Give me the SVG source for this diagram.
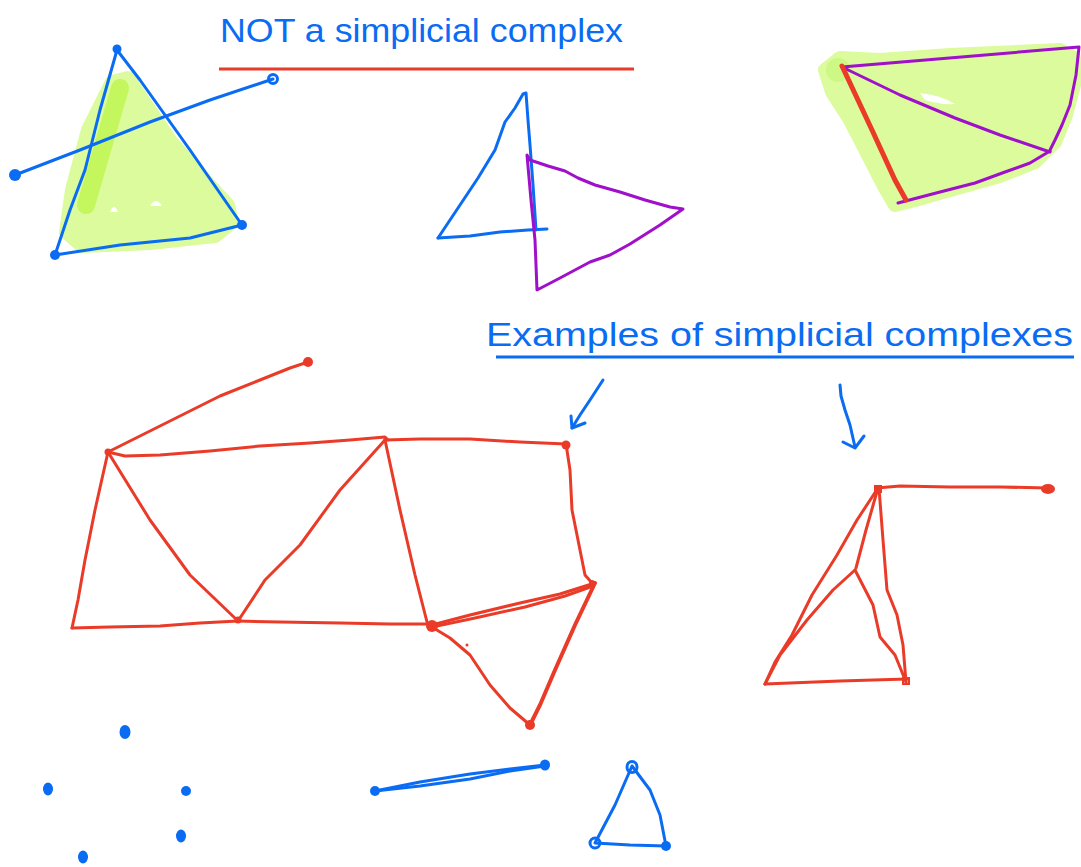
<svg xmlns="http://www.w3.org/2000/svg" width="1081" height="867" viewBox="0 0 1081 867">
<style>
.b{fill:none;stroke:#0a6cf2;stroke-width:3;stroke-linecap:round;stroke-linejoin:round}
.r{fill:none;stroke:#ea3b28;stroke-width:3;stroke-linecap:round;stroke-linejoin:round}
.p{fill:none;stroke:#a00fc9;stroke-width:3;stroke-linecap:round;stroke-linejoin:round}
.bd{fill:#0a6cf2}
.rd{fill:#ea3b28}
.g{fill:#dbfb9d;stroke:#dbfb9d;stroke-width:14;stroke-linejoin:round}
.t{font-family:"Liberation Sans","Noto Sans",sans-serif;font-size:34px;fill:#0a6cf2}
</style>
<rect width="1081" height="867" fill="#ffffff"/>

<g id="title-not">
<text class="t" x="220" y="42" textLength="403" lengthAdjust="spacingAndGlyphs">NOT a simplicial complex</text>
<line x1="219" y1="69" x2="634" y2="69" stroke="#ea3b28" stroke-width="3"/>
</g>

<g id="title-examples">
<text class="t" x="486" y="346" textLength="587" lengthAdjust="spacingAndGlyphs">Examples of simplicial complexes</text>
<line x1="496" y1="357" x2="1074" y2="357" stroke="#0a6cf2" stroke-width="3"/>
</g>

<g id="filled-triangle-with-segment">
<path class="g" d="M112,82 L128,78 L170,140 L200,175 L228,205 L232,222 L215,236 L150,243 L82,246 L66,232 L72,190 L88,130 Z"/>
<path d="M86,205 L120,88" stroke="#c4f75e" stroke-width="18" stroke-linecap="round" fill="none"/>
<path d="M110,212 Q114,202 118,212 Z M150,206 Q156,196 162,206 Z" fill="#ffffff"/>
<path class="b" d="M117,50 L100,110 L85,170 L70,210 L60,240 L55,255 L120,245 L190,238 L242,225 L190,150 L140,80 L117,50"/>
<path class="b" d="M15,175 L80,150 L150,122 L210,100 L273,79"/>
<circle class="bd" cx="117" cy="49" r="4.5"/>
<circle class="bd" cx="242" cy="225" r="5"/>
<circle class="bd" cx="55" cy="255" r="5"/>
<circle class="bd" cx="15" cy="175" r="6"/>
<circle cx="273" cy="79" r="4.5" fill="none" stroke="#0a6cf2" stroke-width="3"/>
</g>

<g id="overlapping-triangles">
<path class="b" d="M438,238 L460,205 L478,178 L495,150 L505,122 L515,108 L523,94 L526,93 L528,120 L530,145 L533,185 L536,230"/>
<path class="b" d="M438,238 L470,236 L500,232 L528,230 L547,229"/>
<path class="p" d="M527,155 L531,200 L535,240 L537,290 L560,278 L590,262 L610,255 L630,244 L660,225 L683,209 L670,207 L645,200 L620,192 L595,185 L578,178 L565,171 L548,166 L530,160 Z"/>
</g>

<g id="filled-quad">
<path class="g" d="M825,70 L840,58 L880,60 L950,55 L1060,50 L1074,58 L1074,85 L1066,115 L1055,142 L1035,162 L1000,176 L950,190 L915,200 L895,205 L885,188 L868,155 L850,120 L832,92 Z"/>
<circle cx="838" cy="70" r="12" fill="#c9f77a" opacity="0.7"/>
<path d="M920,93 Q940,95 955,104 Q940,105 925,100 Z" fill="#ffffff"/>
<path class="p" d="M842,67 L1079,47 L1076,75 L1070,105 L1062,125 L1055,140 L1050,150"/>
<path class="p" d="M842,67 L900,95 L955,118 L1000,135 L1050,152"/>
<path class="p" d="M898,203 L940,192 L975,183 L1005,172 L1030,163 L1050,151"/>
<path d="M842,66 L872,130 L895,180 L906,200" stroke="#ea3b28" stroke-width="5" stroke-linecap="round" fill="none"/>
</g>

<g id="arrow-left">
<path class="b" d="M603,380 L590,400 L580,415 L572,428"/>
<path class="b" d="M571,416 L572,428 L585,423"/>
</g>
<g id="arrow-right">
<path class="b" d="M840,385 L841,396 L845,410 L850,425 L855,447"/>
<path class="b" d="M843,442 L855,448 L864,436"/>
</g>

<g id="complex-left">
<path class="r" d="M108,452 L140,436 L180,416 L220,396 L260,380 L290,368 L308,362"/>
<path class="r" d="M108,452 L125,456 L160,455 L210,451 L260,446 L310,443 L350,440 L385,437 L388,440"/>
<path class="r" d="M385,440 L420,439 L470,439 L520,442 L566,444"/>
<path class="r" d="M108,452 L95,510 L85,560 L78,600 L72,628"/>
<path class="r" d="M72,628 L110,627 L160,626 L200,623 L238,621"/>
<path class="r" d="M108,452 L150,520 L190,575 L238,621"/>
<path class="r" d="M238,621 L265,580 L300,545 L340,490 L385,440"/>
<path class="r" d="M238,621 L280,622 L340,623 L390,624 L432,624"/>
<path class="r" d="M385,440 L400,510 L415,575 L427,622"/>
<path class="r" d="M566,444 L570,470 L572,510 L578,540 L585,575 L592,583"/>
<path class="r" d="M432,625 L470,615 L520,603 L560,594 L595,583"/>
<path class="r" d="M432,627 L475,618 L525,607 L565,596 L593,586"/>
<path class="r" d="M432,627 L450,638 L470,655 L490,685 L510,708 L530,725"/>
<path d="M595,583 L575,625 L555,670 L540,705 L530,725" stroke="#ea3b28" stroke-width="4" stroke-linecap="round" fill="none"/>
<circle class="rd" cx="308" cy="362" r="5"/>
<circle class="rd" cx="566" cy="445" r="4.5"/>
<circle class="rd" cx="432" cy="626" r="6"/>
<circle class="rd" cx="530" cy="725" r="5"/>
<circle class="rd" cx="108" cy="452" r="3.5"/>
<circle class="rd" cx="238" cy="620" r="3.5"/>
<circle class="rd" cx="592" cy="583" r="3"/>
<circle class="rd" cx="467" cy="645" r="1.5"/>
</g>

<g id="complex-right">
<path class="r" d="M877,488 L900,486 L950,487 L1000,487 L1048,488"/>
<ellipse class="rd" cx="1048" cy="489" rx="7" ry="5"/>
<path class="r" d="M878,488 L857,520 L837,555 L812,595 L792,635 L775,662 L765,684"/>
<path class="r" d="M878,488 L866,530 L856,568"/>
<path class="r" d="M855,570 L833,590 L807,620 L780,655 L765,684"/>
<path class="r" d="M855,570 L873,605 L880,637 L895,655 L906,682"/>
<path class="r" d="M879,488 L883,540 L887,590 L897,615 L903,645 L906,682"/>
<path class="r" d="M765,684 L840,681 L907,679"/>
<rect x="903" y="678" width="6" height="6" fill="none" stroke="#ea3b28" stroke-width="2"/>
<rect x="875" y="486" width="6" height="6" fill="none" stroke="#ea3b28" stroke-width="2"/>
</g>

<g id="points">
<ellipse class="bd" cx="125" cy="732" rx="5.5" ry="7"/>
<ellipse class="bd" cx="48" cy="789" rx="5" ry="6.5"/>
<ellipse class="bd" cx="186" cy="791" rx="5" ry="5"/>
<ellipse class="bd" cx="181" cy="836" rx="5" ry="6.5"/>
<ellipse class="bd" cx="83" cy="857" rx="5" ry="6.5"/>
</g>

<g id="segment">
<path class="b" d="M375,791 L420,782 L470,774 L510,769 L545,765"/>
<path class="b" d="M375,791 L420,786 L470,779 L510,771 L545,766"/>
<circle class="bd" cx="375" cy="791" r="5"/>
<ellipse class="bd" cx="545" cy="765" rx="5" ry="5.5"/>
</g>

<g id="small-triangle">
<path class="b" d="M632,766 L615,805 L595,843 L630,845 L666,846 L660,815 L650,790 L632,766"/>
<ellipse cx="632" cy="767" rx="5" ry="5.5" fill="none" stroke="#0a6cf2" stroke-width="3"/>
<circle cx="595" cy="843" r="5" fill="none" stroke="#0a6cf2" stroke-width="3"/>
<circle class="bd" cx="666" cy="846" r="5"/>
</g>
</svg>
